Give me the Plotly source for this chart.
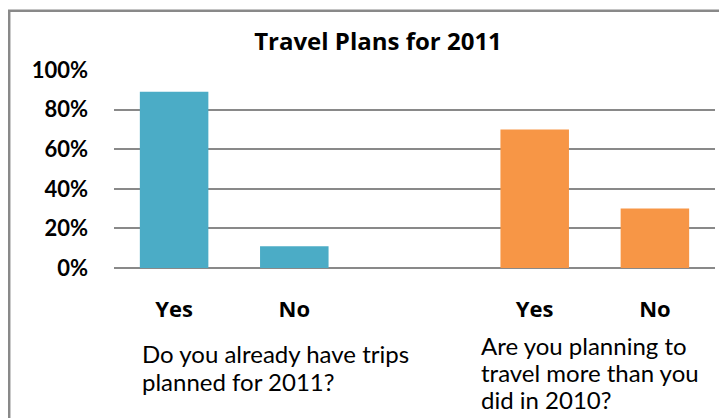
import plotly.graph_objects as go

# ---- data ----
answers = ["Yes", "No"]
q1_label = ["Do you already have trips", "planned for 2011?"]
q2_label = ["Are you planning to", "travel more than you", "did in 2010?"]
q1_values = [0.89, 0.11]
q2_values = [0.70, 0.30]
y_ticks = [0, 0.2, 0.4, 0.6, 0.8, 1.0]
y_ticktext = ["0%", "20%", "40%", "60%", "80%", "100%"]
title_text = "Travel Plans for 2011"

# figure is placed at (8, 8) in the page by the default body margin
W, H = 719, 410
L, R, T, B = 106, 12, 62, 150

FONT = "Lato, 'Open Sans', sans-serif"
FONT_W = "'Open Sans', Lato, sans-serif"
BLUE = "#4BACC6"
ORANGE = "#F79646"
GRID = "#898989"

q1_x = [0, 1]
q2_x = [3, 4]

fig = go.Figure()
fig.add_trace(go.Bar(x=q1_x, y=q1_values, marker=dict(color=BLUE, line=dict(width=0)),
                     width=0.57, showlegend=False, hoverinfo="skip"))
fig.add_trace(go.Bar(x=q2_x, y=q2_values, marker=dict(color=ORANGE, line=dict(width=0)),
                     width=0.57, showlegend=False, hoverinfo="skip"))

fig.update_layout(
    width=W, height=H,
    margin=dict(l=L, r=R, t=T, b=B, pad=0),
    paper_bgcolor="white", plot_bgcolor="white",
    font=dict(family=FONT, color="black"),
    title=dict(text="<b>" + title_text + "</b>", x=370 / W, xref="container", xanchor="center",
               y=1 - 34 / H, yref="container", yanchor="middle",
               font=dict(size=24, family=FONT_W, color="black")),
    xaxis=dict(range=[-0.5, 4.5], tickvals=q1_x + q2_x,
               ticktext=["<b>%s</b>" % a for a in answers + answers],
               tickfont=dict(size=22, family=FONT_W, color="black"),
               showgrid=False, zeroline=False, showline=False, ticks="",
               ticklabelstandoff=26, fixedrange=True),
    yaxis=dict(range=[0, 1], tickvals=y_ticks,
               ticktext=["<b>%s</b>" % t for t in y_ticktext],
               tickfont=dict(size=22, family=FONT, color="black"),
               showgrid=True, gridcolor=GRID, gridwidth=2,
               zeroline=True, zerolinecolor=GRID, zerolinewidth=2,
               showline=False, ticks="", ticklabelstandoff=25, fixedrange=True),
    bargap=0.43,
)

# outer chart border (extends beyond the visible window at right/bottom)
px = lambda x: (x - L) / (W - L - R)
py = lambda y: (H - B - y) / (H - T - B)
fig.add_shape(type="rect", xref="paper", yref="paper",
              x0=px(1.2), x1=px(760), y0=py(2.7), y1=py(460),
              line=dict(color="#898989", width=2.5), fillcolor="rgba(0,0,0,0)", layer="below")

# question labels under the category ticks
for i, line in enumerate(q1_label):
    fig.add_annotation(text=line, xref="paper", yref="paper", x=px(132), y=py(345 + i * 28),
                       xanchor="left", yanchor="middle", showarrow=False,
                       font=dict(size=24, family=FONT, color="black"))
for i, line in enumerate(q2_label):
    fig.add_annotation(text=line, xref="paper", yref="paper", x=px(471), y=py(337 + i * 27),
                       xanchor="left", yanchor="middle", showarrow=False,
                       font=dict(size=24, family=FONT, color="black"))

fig.write_html("out.html")
